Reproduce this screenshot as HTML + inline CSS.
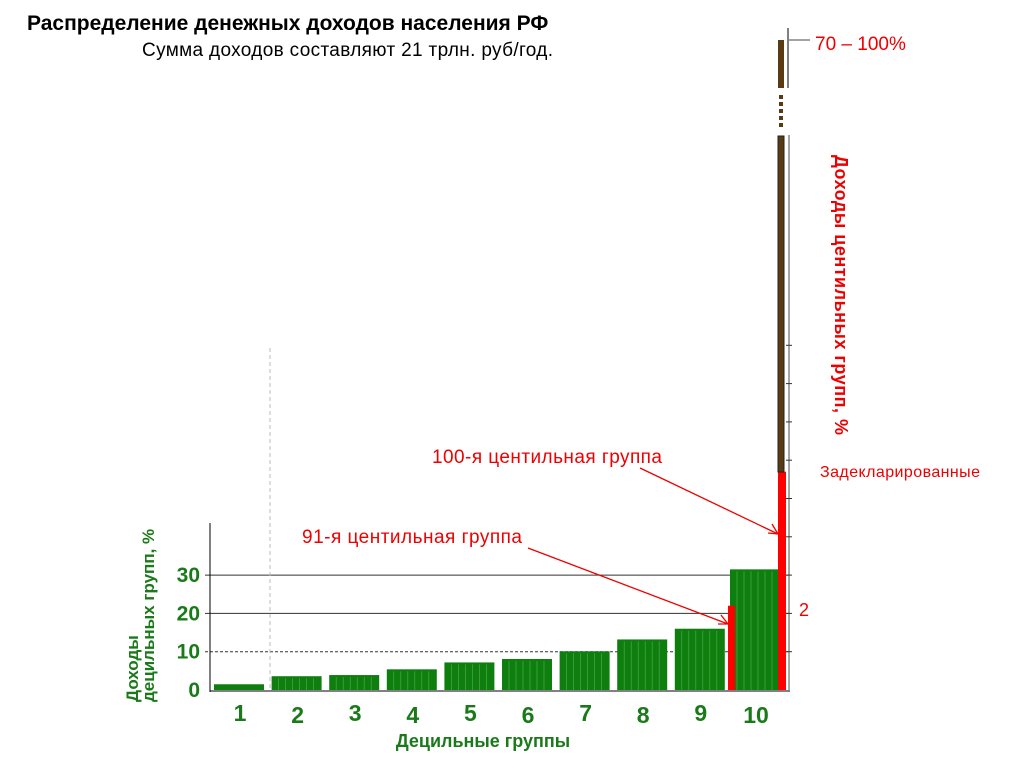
<!DOCTYPE html>
<html><head><meta charset="utf-8"><style>
body{margin:0;background:#fff;width:1024px;height:768px;overflow:hidden;font-family:"Liberation Sans",sans-serif}
</style></head><body>
<svg width="1024" height="768" xmlns="http://www.w3.org/2000/svg" font-family="Liberation Sans, sans-serif">
<text x="27" y="30" font-size="21" font-weight="bold" fill="#000">Распределение денежных доходов населения РФ</text>
<text x="142" y="56" font-size="19" fill="#000" textLength="411">Сумма доходов составляют 21 трлн. руб/год.</text>
<g id="grid"></g>
<g id="bars"></g>
<g id="xlabels" font-size="23" font-weight="bold" fill="#1a7a1a"></g>
<g id="ylabels" font-size="21" font-weight="bold" fill="#1a7a1a" text-anchor="end"></g>
<line x1="270" y1="348" x2="270" y2="690" stroke="#bbb" stroke-width="1" stroke-dasharray="4,3"/>
<line x1="210" y1="523" x2="210" y2="692" stroke="#000" stroke-width="1"/>
<line x1="210" y1="691" x2="790" y2="691" stroke="#000" stroke-width="1"/>
<text x="483" y="747" font-size="18" font-weight="bold" fill="#1a7a1a" text-anchor="middle">Децильные группы</text>
<text transform="translate(138,702) rotate(-90)" font-size="17" font-weight="bold" fill="#1a7a1a"><tspan x="0" dy="0">Доходы</tspan><tspan x="0" dy="16">децильных групп, %</tspan></text>
<line x1="789" y1="135" x2="789" y2="690" stroke="#888" stroke-width="1.5"/>
<line x1="788" y1="28" x2="788" y2="88" stroke="#000" stroke-width="1"/>
<g id="rticks"></g>
<rect x="778" y="40" width="6" height="48" fill="#5a3a12"/>
<line x1="781" y1="95" x2="781" y2="127" stroke="#5a3a12" stroke-width="4" stroke-dasharray="4,3"/>
<rect x="778" y="136" width="6" height="336" fill="#5a3a12" stroke="#222" stroke-width="1"/>
<line x1="789" y1="40" x2="810" y2="40" stroke="#444"/>
<text x="815" y="50" font-size="19" fill="#e00">70 – 100%</text>
<text transform="translate(835,155) rotate(90)" font-size="18" font-weight="bold" fill="#e00" textLength="280">Доходы  центильных групп, %</text>
<text x="820" y="477" font-size="16" fill="#e00" textLength="160">Задекларированные</text>
<text x="799" y="616" font-size="18" fill="#e00">2</text>
<text x="432" y="463" font-size="19" fill="#e00" textLength="230">100-я центильная группа</text>
<text x="302" y="543" font-size="19" fill="#e00" textLength="220">91-я центильная группа</text>
<line x1="640" y1="468" x2="778" y2="534" stroke="#e00" stroke-width="1.3"/>
<polyline points="768,533 778,534 772,524" fill="none" stroke="#e00" stroke-width="1.3"/>
<line x1="528" y1="548" x2="728" y2="624" stroke="#e00" stroke-width="1.3"/>
<polyline points="718,624 728,624 721,615" fill="none" stroke="#e00" stroke-width="1.3"/>
</svg>
<script>
const categories=["1","2","3","4","5","6","7","8","9","10"];
const values=[1.5,3.6,3.9,5.4,7.2,8.1,10.1,13.2,16,31.5];
const yTicks=[0,10,20,30];
const centile91=22;
const centile100=57;
const y=v=>690-v*3.83;
const x=i=>i===9?730:214+i*57.6;
const ns="http://www.w3.org/2000/svg";
function mk(t,a,p){const e=document.createElementNS(ns,t);for(const k in a)e.setAttribute(k,a[k]);p.appendChild(e);return e;}
const grid=document.getElementById('grid');
yTicks.forEach(v=>{if(v===0)return;
 const l=mk('line',{x1:205,x2:789,y1:y(v),y2:y(v),stroke:'#333','stroke-width':1,'stroke-dasharray':v===10?'3,2':''},grid);
 
 });
const yl=document.getElementById('ylabels');
yTicks.forEach(v=>{const t=mk('text',{x:200,y:y(v)+7},yl);t.textContent=v;
 
 });
const bars=document.getElementById('bars');
values.forEach((v,i)=>{const w=i===9?48:50;const r=mk('rect',{x:x(i),y:y(v),width:w,height:690-y(v),fill:'#0e7f0e'},bars);
 
 
 if(i>0)for(let k=1;k<7;k++)mk('line',{x1:x(i)+k*7,x2:x(i)+k*7,y1:y(v)+2,y2:690,stroke:'#4aa84a','stroke-width':0.7},bars);});
const xl=document.getElementById('xlabels');
categories.forEach((c,i)=>{const t=mk('text',{x:x(i)+26,y:i%2?723:721,'text-anchor':'middle'},xl);t.textContent=c;
 
 });
const r9=mk('rect',{x:728,y:y(centile91),width:7,height:690-y(centile91),fill:'#f00'},bars);


const r10=mk('rect',{x:778,y:y(centile100),width:8,height:690-y(centile100),fill:'#f00'},bars);


const rt=document.getElementById('rticks');
for(let k=1;k<=9;k++)mk('line',{x1:786,x2:792,y1:690-k*38.3,y2:690-k*38.3,stroke:'#333'},rt);
</script>
</body></html>
